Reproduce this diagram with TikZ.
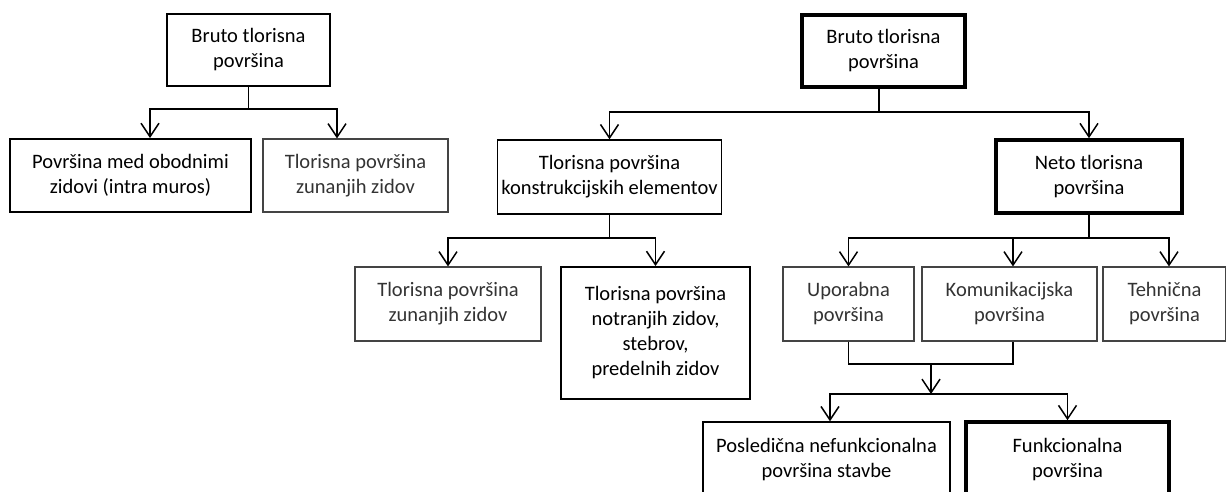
\documentclass[tikz,border=0pt]{standalone}
\usepackage{fontspec}
\setmainfont{Carlito}
\usetikzlibrary{arrows.meta}
\definecolor{txtgray}{HTML}{333333}
\definecolor{bdgray}{HTML}{444444}
\begin{document}
\begin{tikzpicture}[x=1pt,y=-1pt,
  bx/.style={draw=black, line width=1.4pt, align=center, inner sep=0pt, font=\fontsize{20.5}{25}\selectfont, text=black},
  bxmid/.style={bx, line width=1.9pt},
  bxgray/.style={bx, draw=bdgray, line width=1.1pt, text=txtgray},
  bxthick/.style={bx, line width=3.6pt},
  conn/.style={draw=black, line width=1.5pt},
  arr/.style={conn, -{Straight Barb[length=13.5pt,width=18pt,line width=1.5pt]}}
]
\useasboundingbox (0,0) rectangle (1226,492);
\clip (0,0) rectangle (1226,492);

% left tree
\node[bx, minimum width=163pt, minimum height=72pt] (A) at (248.5,50) {Bruto tlorisna\\površina};
\node[bxmid, minimum width=241pt, minimum height=73pt] (B) at (130.5,175.5) {Površina med obodnimi\\zidovi (intra muros)};
\node[bxgray, minimum width=185pt, minimum height=73pt] (C) at (355.5,175.5) {Tlorisna površina\\zunanjih zidov};
\coordinate (jA) at (247,109);
\draw[conn] (A.south) -- (A.south |- jA);
\draw[arr] (A.south |- jA) -| ([xshift=19.5pt]B.north);
\draw[arr] (A.south |- jA) -| ([xshift=-18.5pt]C.north);

% right tree
\node[bxthick, minimum width=163pt, minimum height=72pt] (D) at (883.5,51) {Bruto tlorisna\\površina};
\node[bx, minimum width=224pt, minimum height=74pt] (E) at (609.5,177) {Tlorisna površina\\konstrukcijskih elementov};
\node[bxthick, minimum width=186pt, minimum height=73pt] (F) at (1089,176.5) {Neto tlorisna\\površina};
\coordinate (jD) at (879,112);
\draw[conn] ([xshift=-4.5pt]D.south) -- ([xshift=-4.5pt]D.south |- jD);
\draw[arr] ([xshift=-4.5pt]D.south |- jD) -| (E.north);
\draw[arr] ([xshift=-4.5pt]D.south |- jD) -| (F.north);

% construction elements
\node[bxgray, minimum width=186pt, minimum height=74pt] (G) at (448,304) {Tlorisna površina\\zunanjih zidov};
\node[bxmid, minimum width=189pt, minimum height=132pt] (H) at (655.5,333) {Tlorisna površina\\notranjih zidov,\\stebrov,\\predelnih zidov};
\coordinate (jE) at (612,238);
\draw[conn] (E.south) -- (E.south |- jE);
\draw[arr] (E.south |- jE) -| (G.north);
\draw[arr] (E.south |- jE) -| (H.north);

% net area
\node[bxgray, minimum width=131pt, minimum height=74pt] (I) at (848.5,304) {Uporabna\\površina};
\node[bxgray, minimum width=175pt, minimum height=74pt] (J) at (1009.5,304) {Komunikacijska\\površina};
\node[bxgray, minimum width=123pt, minimum height=74pt] (K) at (1164.5,304) {Tehnična\\površina};
\coordinate (jF) at (1089,238);
\draw[conn] (F.south) -- (F.south |- jF);
\draw[arr] (F.south |- jF) -| (I.north);
\draw[arr] (F.south |- jF) -| ([xshift=3.5pt]J.north);
\draw[arr] (F.south |- jF) -| ([xshift=4.5pt]K.north);

% merge
\node[bx, minimum width=247pt, minimum height=75pt] (L) at (826.5,459.5) {Posledična nefunkcionalna\\površina stavbe};
\node[bxthick, minimum width=203pt, minimum height=75pt] (M) at (1067.5,459.5) {Funkcionalna\\površina};
\coordinate (jm) at (931,364);
\coordinate (jn) at (931,394);
\draw[conn] (I.south) |- (jm) -| ([xshift=3.5pt]J.south);
\draw[arr] (jm) -- (jn);
\draw[arr] (jn) -| ([xshift=3.5pt]L.north);
\draw[arr] (jn) -| (M.north);
\end{tikzpicture}
\end{document}
